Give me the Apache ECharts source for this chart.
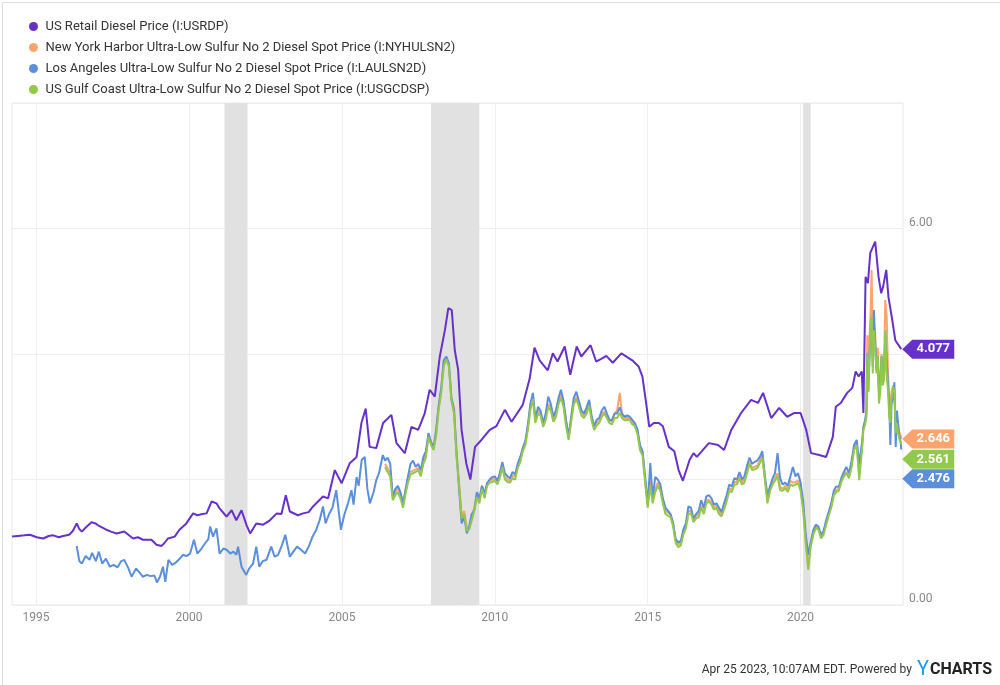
<!DOCTYPE html>
<html>
<head>
<meta charset="utf-8">
<script src="https://cdn.jsdelivr.net/npm/echarts@6/dist/echarts.min.js"></script>
<style>
  html, body { margin: 0; padding: 0; background: #fff; }
  #chart { width: 1000px; height: 685px; }
</style>
</head>
<body>
<div id="chart"></div>
<script>
// US retail diesel (weekly-ish readings)
var retailDiesel = [
  ['1994-03-21',1.09],['1994-06-01',1.10],['1994-08-15',1.11],['1994-10-20',1.12],['1995-01-10',1.08],
  ['1995-03-28',1.06],['1995-06-01',1.10],['1995-07-25',1.11],['1995-10-01',1.08],['1995-11-20',1.10],
  ['1996-02-01',1.12],['1996-03-15',1.18],['1996-05-01',1.30],['1996-06-01',1.21],['1996-07-01',1.17],
  ['1996-08-20',1.24],['1996-10-25',1.32],['1996-12-10',1.30],['1997-01-10',1.27],['1997-04-20',1.20],
  ['1997-06-15',1.17],['1997-08-20',1.14],['1997-11-20',1.17],['1998-03-05',1.06],['1998-05-01',1.08],
  ['1998-07-01',1.04],['1998-10-10',1.04],['1998-12-10',0.96],['1999-02-05',0.94],['1999-03-10',0.98],
  ['1999-04-25',1.06],['1999-07-15',1.09],['1999-09-10',1.20],['1999-12-01',1.30],['2000-02-20',1.46],
  ['2000-04-10',1.43],['2000-06-10',1.45],['2000-07-30',1.46],['2000-09-28',1.65],['2000-11-25',1.62],
  ['2001-01-01',1.54],['2001-03-25',1.41],['2001-05-25',1.51],['2001-07-20',1.35],['2001-09-20',1.51],
  ['2001-11-20',1.27],['2002-01-01',1.14],['2002-03-15',1.30],['2002-06-05',1.28],['2002-08-25',1.35],
  ['2002-11-15',1.46],['2003-01-10',1.45],['2003-03-03',1.75],['2003-04-20',1.49],['2003-07-25',1.43],
  ['2003-09-25',1.46],['2003-12-01',1.48],['2004-01-22',1.57],['2004-05-20',1.73],['2004-07-20',1.70],
  ['2004-10-08',2.15],['2004-12-28',1.94],['2005-04-05',2.26],['2005-06-25',2.36],['2005-08-22',2.90],
  ['2005-10-12',3.13],['2005-11-28',2.52],['2006-02-15',2.50],['2006-05-08',2.90],['2006-08-15',3.03],
  ['2006-10-15',2.58],['2007-01-22',2.42],['2007-04-12',2.84],['2007-07-01',2.79],['2007-09-16',3.05],
  ['2007-11-15',3.43],['2008-01-15',3.32],['2008-03-15',3.96],['2008-05-15',4.38],['2008-06-25',4.73],
  ['2008-08-05',4.70],['2008-09-10',4.06],['2008-10-20',3.75],['2008-11-30',2.79],['2009-01-25',2.26],
  ['2009-03-15',2.00],['2009-05-10',2.52],['2009-07-25',2.63],['2009-11-01',2.79],['2010-01-20',2.85],
  ['2010-05-01',3.11],['2010-07-20',2.92],['2010-12-01',3.19],['2011-02-20',3.60],['2011-04-20',4.10],
  ['2011-06-20',3.90],['2011-09-25',3.74],['2011-11-25',4.01],['2012-01-20',3.88],['2012-04-15',4.12],
  ['2012-06-20',3.67],['2012-09-05',4.12],['2012-10-30',3.96],['2013-02-18',4.14],['2013-04-25',3.88],
  ['2013-06-20',3.92],['2013-08-25',3.97],['2013-11-10',3.86],['2014-02-20',4.01],['2014-05-01',3.95],
  ['2014-07-01',3.90],['2014-09-15',3.80],['2014-10-30',3.64],['2014-12-10',3.25],['2015-01-20',2.84],
  ['2015-03-15',2.90],['2015-05-15',2.90],['2015-07-01',2.85],['2015-09-10',2.52],['2015-11-15',2.45],
  ['2016-01-05',2.15],['2016-02-25',1.98],['2016-05-15',2.31],['2016-07-01',2.42],['2016-08-10',2.36],
  ['2017-01-01',2.58],['2017-04-20',2.55],['2017-07-01',2.47],['2017-09-25',2.79],['2018-01-20',3.06],
  ['2018-05-20',3.27],['2018-08-10',3.22],['2018-10-10',3.38],['2019-01-15',2.98],['2019-04-20',3.14],
  ['2019-07-25',3.00],['2019-10-20',3.06],['2020-01-01',3.06],['2020-03-08',2.79],['2020-05-05',2.42],
  ['2020-08-10',2.39],['2020-11-01',2.36],['2021-01-20',2.68],['2021-02-25',3.16],['2021-04-25',3.22],
  ['2021-07-10',3.38],['2021-09-10',3.46],['2021-10-20',3.72],['2021-11-25',3.64],['2022-01-01',3.72],
  ['2022-01-20',3.06],['2022-02-15',5.23],['2022-03-15',5.13],['2022-04-12',5.61],['2022-06-10',5.79],
  ['2022-07-20',5.23],['2022-08-20',4.97],['2022-09-12',5.07],['2022-10-20',5.34],['2022-11-15',4.91],
  ['2022-12-25',4.59],['2023-02-05',4.22],['2023-04-17',4.077]
];

// Los Angeles spot, before the Gulf / NY series begin
var laEarly = [
  ['1996-05-01',0.94],['1996-06-01',0.70],['1996-07-01',0.66],['1996-08-15',0.78],['1996-10-01',0.72],
  ['1996-11-01',0.83],['1996-12-15',0.70],['1997-01-20',0.85],['1997-03-01',0.66],['1997-04-15',0.74],
  ['1997-06-01',0.61],['1997-07-15',0.64],['1997-09-01',0.60],['1997-10-15',0.70],['1997-11-20',0.72],
  ['1998-01-10',0.58],['1998-02-15',0.45],['1998-04-10',0.58],['1998-05-20',0.52],['1998-07-01',0.45],
  ['1998-08-15',0.48],['1998-10-01',0.46],['1998-11-15',0.47],['1998-12-15',0.36],['1999-01-20',0.45],
  ['1999-02-25',0.61],['1999-03-25',0.37],['1999-05-01',0.72],['1999-06-15',0.64],['1999-08-01',0.68],
  ['1999-09-15',0.74],['1999-10-20',0.80],['1999-12-01',0.78],['2000-01-15',0.82],['2000-03-01',1.04],
  ['2000-04-10',0.82],['2000-05-20',0.88],['2000-07-10',0.98],['2000-08-20',1.05],['2000-09-10',1.25],
  ['2000-10-15',1.09],['2000-11-25',1.22],['2001-01-01',0.82],['2001-02-15',0.90],['2001-03-25',0.88],
  ['2001-05-10',0.82],['2001-06-15',0.85],['2001-07-20',0.80],['2001-08-10',0.93],['2001-09-20',0.61],
  ['2001-11-15',0.48],['2001-12-20',0.58],['2002-02-05',0.66],['2002-03-15',0.93],['2002-04-20',0.61],
  ['2002-06-01',0.70],['2002-07-15',0.72],['2002-09-10',0.93],['2002-10-20',0.77],['2002-12-01',0.80],
  ['2003-01-15',0.95],['2003-02-25',1.12],['2003-04-20',0.77],['2003-06-01',0.85],['2003-07-15',0.93],
  ['2003-09-01',0.88],['2003-10-20',0.82],['2003-12-01',0.93],['2004-01-20',1.10],['2004-03-01',1.20],
  ['2004-04-10',1.35],['2004-05-20',1.57],['2004-06-20',1.30],['2004-08-01',1.45],['2004-09-10',1.55],
  ['2004-10-25',1.83],['2004-12-20',1.20],['2005-02-01',1.45],['2005-03-15',1.62],['2005-04-25',1.83],
  ['2005-05-20',1.60],['2005-06-25',2.04],['2005-07-20',1.90],['2005-08-25',2.31],['2005-10-01',2.36],
  ['2005-11-01',1.85],['2005-12-01',1.62],['2006-01-15',1.80],['2006-02-15',1.99],['2006-03-20',2.10],
  ['2006-05-05',2.39]
];

// shared dates for the three spot series from mid 2006
var spotDates = [
  '2006-06','2006-07','2006-08','2006-09','2006-10','2006-11','2006-12',
  '2007-01','2007-02','2007-03','2007-04','2007-05','2007-06','2007-07','2007-08','2007-09','2007-10','2007-11','2007-12',
  '2008-01','2008-02','2008-03','2008-04','2008-05','2008-06','2008-07','2008-08','2008-09','2008-10','2008-11','2008-12',
  '2009-01','2009-02','2009-03','2009-04','2009-05','2009-06','2009-07','2009-08','2009-09','2009-10','2009-11','2009-12',
  '2010-01','2010-02','2010-03','2010-04','2010-05','2010-06','2010-07','2010-08','2010-09','2010-10','2010-11','2010-12',
  '2011-01','2011-02','2011-03','2011-04','2011-05','2011-06','2011-07','2011-08','2011-09','2011-10','2011-11','2011-12',
  '2012-01','2012-02','2012-03','2012-04','2012-05','2012-06','2012-07','2012-08','2012-09','2012-10','2012-11','2012-12',
  '2013-01','2013-02','2013-03','2013-04','2013-05','2013-06','2013-07','2013-08','2013-09','2013-10','2013-11','2013-12',
  '2014-01','2014-02','2014-03','2014-04','2014-05','2014-06','2014-07','2014-08','2014-09','2014-10','2014-11','2014-12',
  '2015-01','2015-02','2015-03','2015-04','2015-05','2015-06','2015-07','2015-08','2015-09','2015-10','2015-11','2015-12',
  '2016-01','2016-02','2016-03','2016-04','2016-05','2016-06','2016-07','2016-08','2016-09','2016-10','2016-11','2016-12',
  '2017-01','2017-02','2017-03','2017-04','2017-05','2017-06','2017-07','2017-08','2017-09','2017-10','2017-11','2017-12',
  '2018-01','2018-02','2018-03','2018-04','2018-05','2018-06','2018-07','2018-08','2018-09','2018-10','2018-11','2018-12',
  '2019-01','2019-02','2019-03','2019-04','2019-05','2019-06','2019-07','2019-08','2019-09','2019-10','2019-11','2019-12',
  '2020-01','2020-02','2020-03','2020-04','2020-05','2020-06','2020-07','2020-08','2020-09','2020-10','2020-11','2020-12',
  '2021-01','2021-02','2021-03','2021-04','2021-05','2021-06','2021-07','2021-08','2021-09','2021-10','2021-11','2021-12',
  '2022-01-05','2022-01-20','2022-02-10','2022-02-25','2022-03-08','2022-03-20','2022-04-01','2022-04-15',
  '2022-04-28','2022-05-12','2022-05-25','2022-06-10','2022-06-25','2022-07-10','2022-07-25','2022-08-10',
  '2022-08-25','2022-09-10','2022-09-25','2022-10-08','2022-10-25','2022-11-10','2022-11-25','2022-12-08',
  '2022-12-22','2023-01-10','2023-01-25','2023-02-10','2023-02-25','2023-03-10','2023-03-25','2023-04-10',
  '2023-04-17'
];

var nyHarbor = [
  2.25,2.18,2.10,1.72,1.80,1.86,1.74,
  1.60,1.82,1.98,2.12,2.14,2.16,2.18,2.08,2.30,2.40,2.72,2.60,
  2.52,2.75,3.18,3.45,3.88,3.95,3.85,3.30,3.15,2.40,1.95,1.42,
  1.50,1.22,1.24,1.40,1.55,1.76,1.66,1.90,1.74,1.94,1.98,2.00,
  2.02,1.96,2.05,2.24,2.04,2.00,1.98,2.06,2.05,2.22,2.32,2.48,
  2.58,2.85,3.15,3.32,2.95,3.10,3.06,2.88,3.00,3.20,3.15,2.96,
  3.05,3.25,3.35,3.20,2.92,2.68,2.96,3.25,3.32,3.25,3.08,3.02,
  3.10,3.22,3.00,2.84,2.90,2.94,3.05,3.08,3.02,2.94,2.92,3.05,
  3.10,3.38,3.02,2.98,2.98,2.98,2.92,2.88,2.76,2.52,2.42,2.00,
  1.60,1.98,1.68,1.85,1.95,1.86,1.66,1.50,1.47,1.44,1.29,1.03,
  0.96,0.99,1.16,1.26,1.50,1.50,1.35,1.42,1.44,1.58,1.50,1.66,
  1.68,1.63,1.56,1.58,1.50,1.44,1.56,1.70,1.86,1.84,1.96,1.96,
  2.06,1.96,2.00,2.15,2.28,2.18,2.20,2.22,2.30,2.40,2.02,1.68,
  1.86,1.96,2.02,2.10,1.88,1.85,1.90,1.84,1.98,1.95,1.96,1.98,
  1.86,1.56,1.05,0.62,0.96,1.15,1.25,1.22,1.09,1.15,1.30,1.45,
  1.58,1.78,1.83,1.85,1.99,2.08,2.12,2.05,2.22,2.50,2.58,2.10,
  2.55,2.82,2.92,3.05,4.30,3.60,4.20,4.60,
  5.34,4.30,4.50,4.30,3.80,4.10,3.40,3.60,
  4.00,3.70,3.90,4.86,4.60,3.70,3.30,3.00,
  3.40,3.50,3.45,2.85,3.00,2.85,2.75,2.70,
  2.646
];

var laSpot = [
  2.30,2.35,2.25,1.72,1.85,1.90,1.80,
  1.62,1.85,2.05,2.25,2.30,2.20,2.25,2.15,2.36,2.45,2.74,2.60,
  2.50,2.80,3.16,3.45,3.90,3.96,3.85,3.30,3.10,2.45,1.83,1.30,
  1.40,1.14,1.25,1.45,1.51,1.80,1.70,1.90,1.78,1.94,2.00,2.04,
  2.05,1.98,2.10,2.28,2.10,2.05,2.02,2.12,2.08,2.25,2.36,2.50,
  2.62,2.88,3.20,3.38,2.95,3.16,3.10,2.90,3.05,3.32,3.20,3.00,
  3.10,3.30,3.43,3.25,2.95,2.68,3.00,3.30,3.40,3.25,3.10,3.05,
  3.15,3.27,3.02,2.85,2.95,2.98,3.10,3.16,3.05,2.95,2.95,3.05,
  3.05,3.15,3.05,3.00,3.02,3.00,2.95,2.90,2.80,2.55,2.45,2.05,
  1.60,2.26,1.70,2.04,2.00,1.92,1.70,1.55,1.50,1.45,1.30,1.05,
  1.00,1.02,1.20,1.30,1.57,1.55,1.38,1.45,1.50,1.67,1.55,1.73,
  1.75,1.70,1.60,1.62,1.55,1.48,1.62,1.75,1.92,1.89,2.02,2.00,
  2.12,2.00,2.05,2.22,2.35,2.25,2.28,2.30,2.36,2.45,2.05,1.75,
  1.89,2.02,2.10,2.42,2.02,1.92,1.95,1.90,2.05,2.20,2.05,2.10,
  1.95,1.65,1.15,0.80,1.00,1.20,1.28,1.25,1.12,1.18,1.35,1.48,
  1.62,1.82,1.89,1.88,2.02,2.12,2.20,2.10,2.30,2.55,2.63,2.25,
  2.60,2.84,2.95,3.10,4.01,3.40,3.90,4.30,
  4.40,3.80,4.70,4.20,3.75,3.96,3.40,3.50,
  3.96,3.60,3.70,4.30,3.90,3.50,3.20,2.55,
  3.20,3.30,3.55,2.52,3.10,2.90,2.70,2.60,
  2.476
];

var gulfCoast = [
  2.20,2.12,2.05,1.67,1.75,1.80,1.70,
  1.55,1.78,1.95,2.08,2.10,2.12,2.15,2.05,2.25,2.35,2.68,2.55,
  2.47,2.70,3.10,3.38,3.80,3.92,3.80,3.25,3.05,2.35,1.90,1.38,
  1.45,1.18,1.20,1.35,1.50,1.72,1.62,1.85,1.70,1.90,1.95,1.96,
  1.98,1.92,2.02,2.20,2.00,1.96,1.95,2.02,2.00,2.18,2.28,2.45,
  2.55,2.80,3.10,3.28,2.90,3.05,3.02,2.84,2.95,3.15,3.10,2.92,
  3.00,3.20,3.30,3.15,2.85,2.63,2.92,3.20,3.28,3.16,3.02,2.98,
  3.05,3.18,2.95,2.79,2.86,2.90,3.00,3.05,2.98,2.90,2.88,2.98,
  2.98,3.06,2.98,2.94,2.95,2.95,2.88,2.85,2.72,2.47,2.38,1.95,
  1.55,1.90,1.62,1.80,1.90,1.82,1.62,1.45,1.42,1.40,1.25,0.99,
  0.92,0.95,1.12,1.22,1.45,1.46,1.32,1.38,1.40,1.55,1.45,1.62,
  1.65,1.60,1.52,1.55,1.45,1.41,1.52,1.65,1.82,1.80,1.92,1.92,
  2.02,1.92,1.95,2.10,2.25,2.15,2.16,2.18,2.26,2.35,1.99,1.62,
  1.82,1.92,1.98,2.05,1.83,1.82,1.86,1.80,1.92,1.90,1.92,1.94,
  1.82,1.51,1.00,0.56,0.93,1.12,1.22,1.20,1.06,1.12,1.28,1.42,
  1.55,1.75,1.80,1.82,1.96,2.05,2.10,2.02,2.20,2.47,2.55,1.99,
  2.50,2.79,2.88,3.00,4.01,3.40,3.85,4.49,
  4.60,3.69,4.38,4.10,3.69,3.96,3.21,3.40,
  3.96,3.50,3.60,4.38,3.70,3.40,3.00,2.90,
  3.32,3.48,3.40,2.74,2.90,2.75,2.65,2.62,
  2.561
];

var recessions = [
  ['2001-03-01', '2001-11-30'],
  ['2007-12-01', '2009-06-30'],
  ['2020-02-01', '2020-04-30']
];

var yearTicks = ['1995-01-01', '2000-01-01', '2005-01-01', '2010-01-01', '2015-01-01', '2020-01-01'];

var seriesNames = [
  'US Retail Diesel Price (I:USRDP)',
  'New York Harbor Ultra-Low Sulfur No 2 Diesel Spot Price (I:NYHULSN2)',
  'Los Angeles Ultra-Low Sulfur No 2 Diesel Spot Price (I:LAULSN2D)',
  'US Gulf Coast Ultra-Low Sulfur No 2 Diesel Spot Price (I:USGCDSP)'
];
var colors = ['#6631c9', '#fda46e', '#5b8fdb', '#92c84b'];
var tagOffsets = [0, 0, 29, 15];

function pairs(dates, vals) {
  return dates.map(function (d, i) { return [d, vals[i]]; });
}

var chart = echarts.init(document.getElementById('chart'));

var seriesData = [
  retailDiesel,
  pairs(spotDates, nyHarbor),
  laEarly.concat(pairs(spotDates, laSpot)),
  pairs(spotDates, gulfCoast)
];

function tag(i) {
  var d = seriesData[i];
  var last = d[d.length - 1];
  return {
    symbol: 'path://M0,9.5L10,0L52,0L52,19L10,19Z',
    symbolSize: [52, 19],
    symbolKeepAspect: false,
    silent: true,
    z: 10,
    data: [{
      coord: last,
      value: last[1],
      symbolOffset: [27, tagOffsets[i]],
      itemStyle: { color: colors[i] },
      label: {
        show: true,
        position: 'inside',
        offset: [5, 0],
        color: '#fff',
        fontSize: 13,
        fontWeight: 'bold',
        fontFamily: 'Roboto',
        formatter: function (p) { return p.value.toFixed(3); }
      }
    }]
  };
}

// background series: recession shading and the five-year grid lines with their labels
var series = [{
  type: 'line',
  name: 'background',
  data: [],
  silent: true,
  z: 0,
  markArea: {
    silent: true,
    z: 0,
    itemStyle: { color: '#e1e1e1' },
    data: recessions.map(function (r) { return [{ xAxis: r[0] }, { xAxis: r[1] }]; })
  },
  markLine: {
    silent: true,
    z: 0,
    symbol: ['none', 'none'],
    lineStyle: { color: '#efefef', width: 1, type: 'solid' },
    label: {
      show: true,
      position: 'start',
      distance: 7,
      color: '#888',
      fontSize: 12,
      fontFamily: 'Roboto',
      formatter: function (p) { return p.name; }
    },
    data: yearTicks.map(function (d) { return { xAxis: d, name: d.slice(0, 4) }; })
  }
}];

seriesNames.forEach(function (name, i) {
  series.push({
    type: 'line',
    name: name,
    data: seriesData[i],
    showSymbol: false,
    symbol: 'circle',
    z: 2 + i,
    lineStyle: { width: 2, color: colors[i] },
    itemStyle: { color: colors[i] },
    emphasis: { disabled: true },
    markPoint: tag(i)
  });
});

chart.setOption({
  animation: false,
  backgroundColor: '#fff',
  textStyle: { fontFamily: 'Roboto' },
  legend: {
    data: seriesNames,
    orient: 'vertical',
    left: 24,
    top: 15,
    icon: 'circle',
    itemWidth: 14,
    itemHeight: 9,
    itemGap: 8,
    selectedMode: false,
    textStyle: { fontSize: 13, color: '#333', fontFamily: 'Roboto' }
  },
  grid: {
    left: 12,
    right: 97,
    top: 103,
    bottom: 80,
    show: true,
    borderColor: '#e8e8e8',
    borderWidth: 1,
    containLabel: false
  },
  xAxis: {
    type: 'time',
    min: '1994-03-20',
    max: '2023-05-08',
    axisLine: { show: false },
    axisTick: { show: false },
    splitLine: { show: false },
    axisLabel: { show: false }
  },
  yAxis: {
    type: 'value',
    position: 'right',
    min: 0,
    max: 8,
    interval: 2,
    axisLine: { show: false },
    axisTick: { show: false },
    splitLine: { lineStyle: { color: '#eeeeee', width: 1 } },
    axisLabel: {
      color: '#888',
      fontSize: 12,
      margin: 6,
      verticalAlign: 'bottom',
      formatter: function (v) { return (v === 0 || v === 6) ? v.toFixed(2) : ''; }
    }
  },
  graphic: [
    {
      type: 'rect',
      left: 0, top: 0,
      shape: { width: 999, height: 684 },
      style: { fill: 'none', stroke: '#dddddd', lineWidth: 1 },
      silent: true
    },
    {
      type: 'text',
      right: 8,
      top: 660,
      style: {
        text: 'Apr 25 2023, 10:07AM EDT. Powered by {y|Y}{c|CHARTS}',
        fill: '#333',
        font: '12px Roboto',
        rich: {
          y: { fill: '#1c9cf0', fontSize: 20, fontFamily: 'Roboto', padding: [0, 1, 0, 2] },
          c: { fill: '#222', fontSize: 16, fontWeight: 'bold', fontFamily: 'Roboto' }
        }
      }
    }
  ],
  series: series
});
</script>
</body>
</html>
